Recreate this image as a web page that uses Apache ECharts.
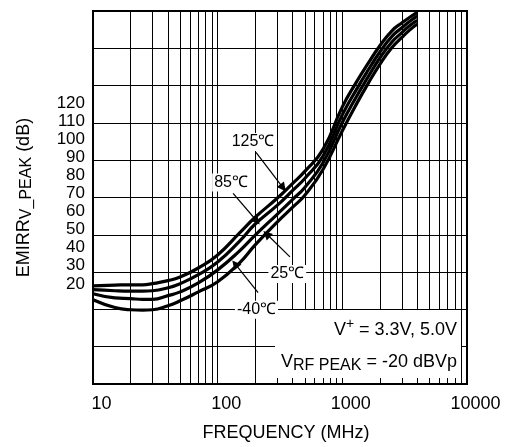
<!DOCTYPE html>
<html>
<head>
<meta charset="utf-8">
<script src="https://cdn.jsdelivr.net/npm/echarts@6/dist/echarts.min.js"></script>
<style>
  html, body { margin: 0; padding: 0; background: #fff; }
  #chart { width: 508px; height: 447px; }
</style>
</head>
<body>
<div id="chart"></div>
<script>
// frequency points (MHz) and EMIRR curves (grid units, 10 per division)
const freqs = [10, 15, 20, 25, 30, 40, 50, 70, 100, 150, 200, 300, 400, 500, 700, 1000, 1300, 1600, 2000, 2500, 3000, 3500, 4000];
const emirr125 = [26.3, 26.5, 26.6, 26.6, 26.9, 27.7, 28.7, 31.1, 34.6, 40.5, 44.7, 49.8, 53.8, 57.0, 62.9, 74.3, 81.0, 85.8, 90.7, 94.7, 96.8, 98.4, 99.6];
const emirr85 = [25.3, 25.0, 24.9, 24.9, 25.0, 25.8, 26.9, 29.3, 32.7, 38.3, 42.9, 47.9, 51.9, 55.1, 61.1, 72.2, 79.0, 84.0, 89.0, 93.2, 95.5, 97.3, 98.6];
const emirr25 = [24.2, 23.1, 22.9, 22.7, 22.7, 23.7, 24.7, 27.1, 30.6, 35.7, 39.9, 45.5, 49.5, 52.7, 59.3, 70.1, 77.1, 82.2, 87.4, 91.7, 94.2, 96.2, 97.5];
const emirrM40 = [22.6, 20.5, 19.9, 19.8, 19.9, 21.0, 22.3, 24.7, 27.4, 32.5, 37.3, 43.4, 47.4, 50.6, 57.5, 67.9, 75.1, 80.4, 85.7, 90.2, 92.9, 95.0, 96.5];

// minor vertical grid lines of the log axis
const minorFreqs = [20, 30, 40, 50, 60, 70, 80, 90, 200, 300, 400, 500, 600, 700, 800, 900, 2000, 3000, 4000, 5000, 6000, 7000, 8000, 9000];
// y tick labels as printed
const yLabels = [20, 30, 40, 50, 60, 70, 80, 90, 100, 110, 120];

// curve tags: [text, freq, value] and their arrows: [fromFreq, fromVal, toFreq, toVal]
const tags = [
  ['125℃', 192, 64.9],
  ['85℃', 128, 54.0],
  ['25℃', 362, 29.5],
  ['-40℃', 205, 19.9]
];
const arrows = [
  [203, 62.1, 335, 52.6],
  [133, 51.1, 206, 43.7],
  [380, 34.1, 247, 40.2],
  [211, 24.5, 138, 32.2]
];

const font = 'Liberation Sans, Arial, sans-serif';
const chart = echarts.init(document.getElementById('chart'));

function curve(name, vals) {
  return {
    name,
    type: 'line',
    smooth: true,
    symbol: 'none',
    z: 3,
    lineStyle: { color: '#000', width: 3.2 },
    data: freqs.map((f, i) => [f, vals[i]])
  };
}

chart.setOption({
  animation: false,
  textStyle: { fontFamily: font },
  grid: {
    left: 93, top: 11, right: 41, bottom: 61,
    show: true, borderColor: '#000', borderWidth: 2
  },
  xAxis: {
    type: 'log',
    logBase: 10,
    min: 10,
    max: 10000,
    name: 'FREQUENCY (MHz)',
    nameLocation: 'middle',
    nameGap: 40,
    nameTextStyle: { fontSize: 18, color: '#000', padding: [0, 0, 0, 12] },
    axisLine: { show: false },
    axisTick: { show: false },
    axisLabel: { fontSize: 18, color: '#000', margin: 11, padding: [0, 0, 0, 17], formatter: v => String(v) },
    splitLine: { show: true, lineStyle: { color: '#000', width: 1 } }
  },
  yAxis: [
    {
      type: 'value',
      min: 0,
      max: 100,
      interval: 10,
      axisLine: { show: false },
      axisTick: { show: false },
      axisLabel: { show: false },
      splitLine: { show: true, lineStyle: { color: '#000', width: 1 } }
    },
    {
      type: 'value',
      position: 'left',
      min: -35.4,
      max: 171,
      axisLine: { show: false },
      axisTick: { show: false },
      splitLine: { show: false },
      axisLabel: { customValues: yLabels, fontSize: 17, color: '#000', margin: 8 },
      name: 'EMIRR{sub|V_PEAK} (dB)',
      nameLocation: 'middle',
      nameRotate: 90,
      nameGap: 58,
      nameTextStyle: {
        fontSize: 18,
        color: '#000',
        rich: { sub: { fontSize: 16, color: '#000', padding: [6, 0, 0, 0] } }
      }
    }
  ],
  graphic: [
    { type: 'rect', z: 50, shape: { x: 275, y: 310, width: 186, height: 68 }, style: { fill: '#fff' } },
    {
      type: 'text', z: 51, x: 457, y: 330,
      style: {
        text: 'V{sup|+} = 3.3V, 5.0V', align: 'right', verticalAlign: 'middle',
        fontSize: 18, fontFamily: font, fill: '#000',
        rich: { sup: { fontSize: 14, fontFamily: font, fill: '#000', padding: [0, 0, 12, 0] } }
      }
    },
    {
      type: 'text', z: 51, x: 457, y: 362,
      style: {
        text: 'V{sub|RF PEAK} = -20 dBVp', align: 'right', verticalAlign: 'middle',
        fontSize: 18, fontFamily: font, fill: '#000',
        rich: { sub: { fontSize: 16, fontFamily: font, fill: '#000', padding: [8, 0, 0, 0] } }
      }
    }
  ],
  series: [
    {
      type: 'line',
      data: [],
      z: 1,
      markLine: {
        silent: true,
        symbol: 'none',
        label: { show: false },
        lineStyle: { color: '#000', width: 1, type: 'solid' },
        data: minorFreqs.map(f => ({ xAxis: f }))
      }
    },
    curve('125℃', emirr125),
    curve('85℃', emirr85),
    curve('25℃', emirr25),
    curve('-40℃', emirrM40),
    {
      type: 'line',
      data: [],
      z: 5,
      markLine: {
        silent: true,
        symbol: ['none', 'triangle'],
        symbolSize: 9,
        label: { show: false },
        lineStyle: { color: '#000', width: 1.2, type: 'solid' },
        data: arrows.map(a => [{ coord: [a[0], a[1]] }, { coord: [a[2], a[3]] }])
      },
      markPoint: {
        silent: true,
        symbol: 'circle',
        symbolSize: 1,
        itemStyle: { color: 'rgba(0,0,0,0)' },
        label: {
          show: true,
          position: 'inside',
          formatter: p => p.name,
          fontSize: 16,
          color: '#000',
          backgroundColor: '#fff',
          padding: [1, 2]
        },
        data: tags.map(t => ({ name: t[0], coord: [t[1], t[2]] }))
      }
    }
  ]
});
</script>
</body>
</html>
